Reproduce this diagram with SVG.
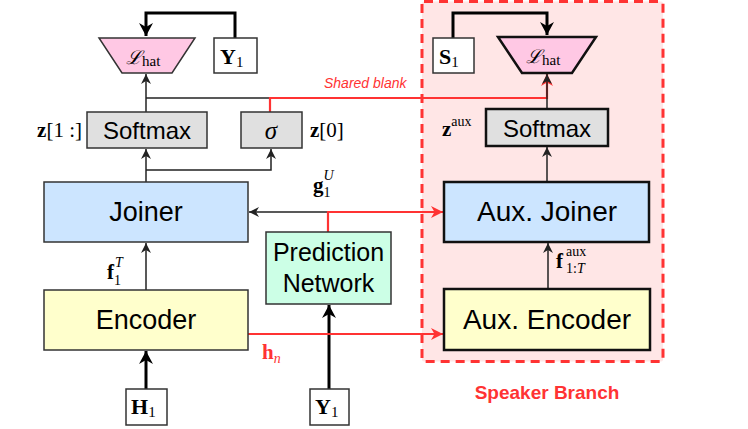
<svg xmlns="http://www.w3.org/2000/svg" width="748" height="429" viewBox="0 0 748 429">
<defs>
<style>
.box{stroke:#333;stroke-width:1.5}
.bx{stroke:#111;stroke-width:2.5}
.sans{font-family:"Liberation Sans",Arial,sans-serif;fill:#000}
.big{font-size:27px}
.mid{font-size:24px}
.serif{font-family:"Liberation Serif","DejaVu Serif",serif;fill:#000}
.ln{fill:none;stroke:#222;stroke-width:1.5}
.thick{fill:none;stroke:#000;stroke-width:3}
.red{fill:none;stroke:#ff3333;stroke-width:2.2}
</style>
<marker id="a" markerUnits="userSpaceOnUse" markerWidth="11" markerHeight="11" refX="10" refY="5" orient="auto"><path d="M0,0 L10,5 L0,10 L3,5 z" fill="#222"/></marker>
<marker id="at" markerUnits="userSpaceOnUse" markerWidth="14" markerHeight="14" refX="13" refY="7" orient="auto"><path d="M0,0 L13,7 L0,14 L4,7 z" fill="#000"/></marker>
<marker id="ar" markerUnits="userSpaceOnUse" markerWidth="13" markerHeight="13" refX="12" refY="6" orient="auto"><path d="M0,0 L12,6 L0,12 L3.5,6 z" fill="#ff3333"/></marker>
</defs>

<g id="speaker-branch">
<rect x="422" y="1.5" width="241" height="360" rx="2" fill="#ffe6e6" stroke="#ff3333" stroke-width="3" stroke-dasharray="9 6"/>
<text x="547" y="399" text-anchor="middle" font-family="Liberation Sans,Arial,sans-serif" font-weight="bold" font-size="19" fill="#ff3333">Speaker Branch</text>
</g>

<g id="connectors">
<path class="thick" d="M235,38 V13 H146 V36" marker-end="url(#at)"/>
<path class="thick" d="M453,38 V13 H547 V35" marker-end="url(#at)"/>
<path class="ln" d="M146,112 V74" marker-end="url(#a)"/>
<path class="ln" d="M146,98 H270"/>
<path class="red" d="M270,112 V98 H547 V74" marker-end="url(#ar)"/>
<path class="ln" d="M547,109 V74" marker-end="url(#a)"/>
<path class="ln" d="M146,182 V149" marker-end="url(#a)"/>
<path class="ln" d="M146,170 H271 V149" marker-end="url(#a)"/>
<path class="ln" d="M547,182 V147" marker-end="url(#a)"/>
<path class="ln" d="M548,289 V243" marker-end="url(#a)"/>
<path class="ln" d="M146,290 V243" marker-end="url(#a)"/>
<path class="thick" d="M146,389 V351" marker-end="url(#at)"/>
<path class="thick" d="M329,389 V305" marker-end="url(#at)"/>
<path class="ln" d="M328,212 H249" marker-end="url(#a)"/>
<path class="red" d="M328,232 V212 H443" marker-end="url(#ar)"/>
<path class="red" d="M248,334 H443" marker-end="url(#ar)"/>
<text x="324" y="88" font-family="Liberation Sans,Arial,sans-serif" font-style="italic" font-size="14" fill="#ff3333">Shared blank</text>
</g>

<g id="loss-main">
<polygon points="99,38 195,38 172,73 122,73" fill="#ffc8e4" stroke="#333" stroke-width="1.5"/>
<text x="126" y="64" class="serif" font-size="21"><tspan font-family="DejaVu Serif,serif" font-style="italic" font-size="19">ℒ</tspan><tspan font-size="15" dy="2">hat</tspan></text>
</g>
<g id="y1-top">
<rect x="214" y="38" width="43" height="35" fill="#fff" class="box"/>
<text x="220" y="64" class="serif" font-size="22"><tspan font-weight="bold">Y</tspan><tspan font-size="15" dy="3">1</tspan></text>
</g>
<g id="loss-aux">
<polygon points="498,37 596,37 572,73 522,73" fill="#ffc8e4" class="bx"/>
<text x="526" y="63" class="serif" font-size="21"><tspan font-family="DejaVu Serif,serif" font-style="italic" font-size="19">ℒ</tspan><tspan font-size="15" dy="2">hat</tspan></text>
</g>
<g id="s1">
<rect x="433" y="38" width="41" height="35" fill="#fff" class="box"/>
<text x="439" y="64" class="serif" font-size="22"><tspan font-weight="bold">S</tspan><tspan font-size="15" dy="3">1</tspan></text>
</g>

<g id="softmax-main">
<rect x="87" y="112" width="120" height="36" fill="#e0e0e0" class="box"/>
<text x="147" y="139" text-anchor="middle" class="sans mid">Softmax</text>
<text x="82" y="137" text-anchor="end" class="serif" font-size="21"><tspan font-weight="bold">z</tspan>[1 :]</text>
</g>
<g id="sigma">
<rect x="241" y="112" width="61" height="36" fill="#e0e0e0" class="box"/>
<text x="271" y="139" text-anchor="middle" class="serif" font-style="italic" font-size="25">σ</text>
<text x="310" y="137" class="serif" font-size="21"><tspan font-weight="bold">z</tspan>[0]</text>
</g>
<g id="softmax-aux">
<rect x="486" y="109" width="122" height="37" fill="#e0e0e0" class="bx"/>
<text x="547" y="137" text-anchor="middle" class="sans mid">Softmax</text>
<text x="442" y="136" class="serif" font-size="21"><tspan font-weight="bold">z</tspan><tspan font-size="14" dy="-10">aux</tspan></text>
</g>

<g id="joiner">
<rect x="44" y="182" width="204" height="60" fill="#cce5ff" class="box"/>
<text x="146" y="221" text-anchor="middle" class="sans big">Joiner</text>
<text x="313" y="192" class="serif" font-size="21"><tspan font-weight="bold">g</tspan><tspan font-size="14" dy="5">1</tspan><tspan font-size="14" font-style="italic" dx="-7" dy="-17">U</tspan></text>
</g>
<g id="aux-joiner">
<rect x="444" y="182" width="205" height="60" fill="#cce5ff" class="bx"/>
<text x="547" y="221" text-anchor="middle" class="sans" font-size="28">Aux. Joiner</text>
<text x="556" y="268" class="serif" font-size="21" font-weight="bold">f</text>
<text x="566" y="256" class="serif" font-size="14">aux</text>
<text x="566" y="273" class="serif" font-size="14">1:<tspan font-style="italic">T</tspan></text>
</g>

<g id="prediction-network">
<rect x="266" y="232" width="125" height="72" fill="#ccffe6" class="box"/>
<text x="328.5" y="261" text-anchor="middle" class="sans" font-size="25">Prediction</text>
<text x="328.5" y="292" text-anchor="middle" class="sans" font-size="25">Network</text>
</g>

<g id="encoder">
<rect x="44" y="290" width="204" height="60" fill="#ffffcc" class="box"/>
<text x="146" y="329" text-anchor="middle" class="sans big">Encoder</text>
<text x="107" y="279" class="serif" font-size="21"><tspan font-weight="bold">f</tspan><tspan font-size="14" dy="6">1</tspan><tspan font-size="14" font-style="italic" dx="-6" dy="-18">T</tspan></text>
<text x="262" y="359" font-family="Liberation Serif,serif" font-size="21" fill="#ff3333"><tspan font-weight="bold">h</tspan><tspan font-size="14" font-style="italic" dy="4">n</tspan></text>
</g>
<g id="aux-encoder">
<rect x="444" y="289" width="206" height="61" fill="#ffffcc" class="bx"/>
<text x="547" y="329" text-anchor="middle" class="sans" font-size="28">Aux. Encoder</text>
</g>

<g id="h1">
<rect x="126" y="389" width="41" height="36" fill="#fff" class="box"/>
<text x="131" y="414" class="serif" font-size="22"><tspan font-weight="bold">H</tspan><tspan font-size="15" dy="3">1</tspan></text>
</g>
<g id="y1-bottom">
<rect x="310" y="389" width="39" height="36" fill="#fff" class="box"/>
<text x="315" y="414" class="serif" font-size="22"><tspan font-weight="bold">Y</tspan><tspan font-size="15" dy="3">1</tspan></text>
</g>
</svg>
